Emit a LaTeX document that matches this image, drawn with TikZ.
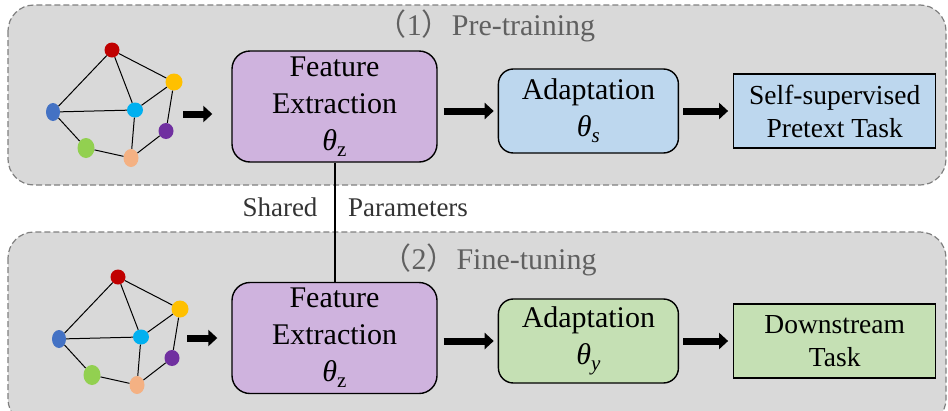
\documentclass[tikz,border=0pt]{standalone}
\usepackage{fontspec}
\setmainfont{Liberation Serif}
\newfontfamily\serifbox{Liberation Serif}
\newfontfamily\cjk{Noto Sans CJK SC}
\usetikzlibrary{positioning,shapes.geometric,arrows.meta}
\definecolor{panelgray}{HTML}{D9D9D9}
\definecolor{panelline}{HTML}{808080}
\definecolor{titlegray}{HTML}{606060}
\definecolor{featpurple}{HTML}{CFB3DE}
\definecolor{adaptblue}{HTML}{BDD7EE}
\definecolor{adaptgreen}{HTML}{C5E0B4}
\definecolor{nred}{HTML}{C00000}
\definecolor{nyellow}{HTML}{FFC000}
\definecolor{nblue}{HTML}{4472C4}
\definecolor{ncyan}{HTML}{00B0F0}
\definecolor{npurple}{HTML}{7030A0}
\definecolor{ngreen}{HTML}{92D050}
\definecolor{norange}{HTML}{F4B183}
\newcommand{\thetasub}[1]{\textit{θ}\raisebox{-6pt}{\fontsize{21}{21}\selectfont #1}}
\tikzset{
  panel/.style={draw=panelline, fill=panelgray, dash pattern=on 6pt off 3pt, line width=1.2pt, rounded corners=26pt},
  panel title/.style={text=titlegray, font=\serifbox\fontsize{30}{36}\selectfont, anchor=base},
  module/.style={draw=black, line width=1.4pt, align=center, font=\serifbox\fontsize{30}{37}\selectfont, inner sep=0pt},
  feature module/.style={module, rounded corners=18pt, fill=featpurple, minimum width=205pt, minimum height=111pt},
  adapt module/.style={module, rounded corners=15pt, minimum width=180pt, minimum height=84pt},
  task module/.style={module, line width=1.2pt, font=\serifbox\fontsize{27.5}{33}\selectfont, minimum width=202pt, minimum height=74pt},
  gnode/.style={ellipse, inner sep=0pt},
  gedge/.style={line width=1pt},
  big arrow/.style={line width=7pt, -{Triangle[length=9pt,width=16pt]}},
  shared label/.style={text=black!80, font=\serifbox\fontsize{27}{32}\selectfont, anchor=base},
}
\begin{document}
\begin{tikzpicture}[x=1pt,y=-1pt]
\useasboundingbox (0,0) rectangle (948,410);
% the two stages
\draw[panel] (8,5) rectangle (946,185);
\draw[panel] (8,232) rectangle (946,425);
\node[panel title] (titleA) at (486,35) {{\cjk （}1{\cjk ）}Pre-training};
\node[panel title] (titleB) at (489,269) {{\cjk （}2{\cjk ）}Fine-tuning};
% input graphs
\foreach \g/\dx/\dy in {A/0/0,B/6/227}{
  \begin{scope}[shift={(\dx,\dy)}]
    \node[gnode, fill=nred, minimum width=15pt, minimum height=15pt] (red\g) at (112,50) {};
    \node[gnode, fill=nyellow, minimum width=17pt, minimum height=17pt] (yel\g) at (174,82) {};
    \node[gnode, fill=nblue, minimum width=14pt, minimum height=18pt] (blu\g) at (53,112) {};
    \node[gnode, fill=ncyan, minimum width=16pt, minimum height=15pt] (cya\g) at (135,110) {};
    \node[gnode, fill=npurple, minimum width=15pt, minimum height=16pt] (pur\g) at (166,131) {};
    \node[gnode, fill=ngreen, minimum width=17pt, minimum height=20pt] (gre\g) at (86,148) {};
    \node[gnode, fill=norange, minimum width=15pt, minimum height=18pt] (ora\g) at (131,158) {};
    \draw[gedge] (red\g) -- (blu\g);
    \draw[gedge] (red\g) -- (cya\g);
    \draw[gedge] (red\g) -- (yel\g);
    \draw[gedge] (yel\g) -- (cya\g);
    \draw[gedge] (yel\g) -- (pur\g);
    \draw[gedge] (blu\g) -- (cya\g);
    \draw[gedge] (blu\g) -- (gre\g);
    \draw[gedge] (gre\g) -- (ora\g);
    \draw[gedge] (cya\g) -- (ora\g);
    \draw[gedge] (ora\g) -- (pur\g);
  \end{scope}
}
% pre-training row
\node[feature module] (featA) at (334.5,106.5) {Feature\\Extraction\\\thetasub{z}};
\node[adapt module, fill=adaptblue, right=60pt of featA, yshift=-4.5pt] (adaptA) {Adaptation\\\thetasub{\itshape s}};
\node[task module, fill=adaptblue, right=54pt of adaptA] (taskA) {Self-supervised\\Pretext Task};
% fine-tuning row
\node[feature module] (featB) at (334.5,338) {Feature\\Extraction\\\thetasub{z}};
\node[adapt module, fill=adaptgreen, right=60pt of featB, yshift=-3pt] (adaptB) {Adaptation\\\thetasub{\itshape y}};
\node[task module, fill=adaptgreen, right=54pt of adaptB] (taskB) {Downstream\\Task};
% arrows
\coordinate (inA) at (183,114);
\coordinate (inB) at (187,338);
\draw[big arrow, shorten >=19pt] (inA) -- (inA -| featA.west);
\draw[big arrow, shorten <=6pt, shorten >=4pt] (featA.east |- adaptA.west) -- (adaptA.west);
\draw[big arrow, shorten <=4pt, shorten >=5pt] (adaptA.east) -- (taskA.west);
\draw[big arrow, shorten >=14pt] (inB) -- (inB -| featB.west);
\draw[big arrow, shorten <=6pt, shorten >=4pt] (featB.east |- adaptB.west) -- (adaptB.west);
\draw[big arrow, shorten <=4pt, shorten >=5pt] (adaptB.east) -- (taskB.west);
% shared parameters
\draw[line width=2pt] (featA.south) -- (featB.north);
\node[shared label] (sharedL) at (280,216) {Shared};
\node[shared label] (sharedR) at (408,216) {Parameters};
\end{tikzpicture}
\end{document}
